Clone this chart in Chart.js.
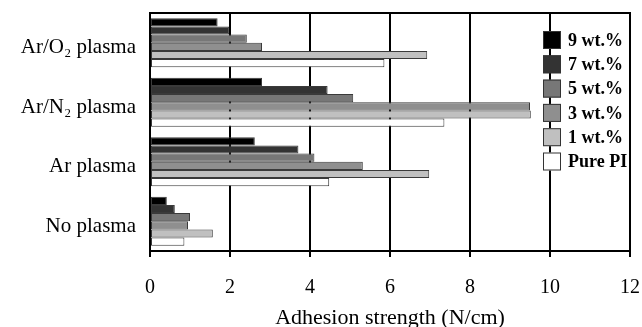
<!DOCTYPE html>
<html>
<head>
<meta charset="utf-8">
<script src="https://cdn.jsdelivr.net/npm/chart.js@4"></script>
<style>
  html, body { margin: 0; padding: 0; background: #fff; }
  #wrap { width: 642px; height: 327px; }
</style>
</head>
<body>
<div id="wrap"><canvas id="adhesionChart" width="642" height="327"></canvas></div>
<script>
// categories (top to bottom)
const treatments = ['Ar/O\u2082 plasma', 'Ar/N\u2082 plasma', 'Ar plasma', 'No plasma'];

// adhesion strength (N/cm) per filler content
const wt9 = [1.69, 2.80, 2.62, 0.42];
const wt7 = [1.98, 4.44, 3.71, 0.62];
const wt5 = [2.42, 5.08, 4.11, 1.00];
const wt3 = [2.80, 9.50, 5.32, 0.95];
const wt1 = [6.93, 9.52, 6.98, 1.57];
const purePI = [5.86, 7.36, 4.48, 0.86];

const seriesLabels = ['9 wt.%', '7 wt.%', '5 wt.%', '3 wt.%', '1 wt.%', 'Pure PI'];
const xTicks = [0, 2, 4, 6, 8, 10, 12];

const fills = ['#000000', '#333333', '#777777', '#8f8f8f', '#c0c0c0', '#ffffff'];
const serif = '"Liberation Serif", "DejaVu Serif", serif';

const datasets = [wt9, wt7, wt5, wt3, wt1, purePI].map((vals, i) => ({
  label: seriesLabels[i],
  data: vals,
  backgroundColor: fills[i],
  borderColor: '#3a3a3a',
  borderWidth: 1,
  borderSkipped: false,
  categoryPercentage: 0.82,
  barPercentage: 1.0
}));

// frame around plot + legend inside the plot on the right
const framePlugin = {
  id: 'frameAndLegend',
  afterDraw(chart) {
    const { ctx, chartArea: a } = chart;
    ctx.save();
    ctx.strokeStyle = '#000';
    ctx.lineWidth = 2;
    ctx.strokeRect(a.left, a.top, a.right - a.left, a.bottom - a.top);

    const boxX = 543, boxW = 18, boxH = 18;
    let y = 31;
    ctx.font = 'bold 18px ' + serif;
    ctx.textBaseline = 'middle';
    chart.data.datasets.forEach(ds => {
      ctx.fillStyle = ds.backgroundColor;
      ctx.fillRect(boxX, y, boxW, boxH);
      ctx.lineWidth = 1;
      ctx.strokeStyle = '#333';
      ctx.strokeRect(boxX + 0.5, y + 0.5, boxW - 1, boxH - 1);
      ctx.fillStyle = '#000';
      ctx.fillText(ds.label, boxX + 25, y + boxH / 2 + 1);
      y += 24.3;
    });
    ctx.restore();
  }
};

new Chart(document.getElementById('adhesionChart'), {
  type: 'bar',
  data: { labels: treatments, datasets: datasets },
  plugins: [framePlugin],
  options: {
    indexAxis: 'y',
    responsive: false,
    animation: false,
    layout: { padding: { top: 13, right: 12, left: 0, bottom: 0 } },
    plugins: {
      legend: { display: false },
      tooltip: { enabled: false }
    },
    scales: {
      x: {
        min: 0,
        max: 12,
        afterBuildTicks: axis => { axis.ticks = xTicks.map(v => ({ value: v })); },
        afterFit: axis => {
          axis.height = 76;
          axis.paddingLeft = 0;
          axis.paddingRight = 0;
        },
        grid: {
          color: '#000',
          lineWidth: 2,
          tickLength: 6,
          tickColor: '#000'
        },
        border: { color: '#000', width: 2 },
        ticks: {
          color: '#000',
          font: { family: serif, size: 20 },
          padding: 19
        },
        title: {
          display: true,
          text: 'Adhesion strength (N/cm)',
          color: '#000',
          font: { family: serif, size: 22 },
          padding: { top: 0, bottom: -4 }
        }
      },
      y: {
        afterFit: axis => {
          axis.width = 150;
          axis.paddingTop = 0;
          axis.paddingBottom = 0;
        },
        grid: {
          drawOnChartArea: false,
          drawTicks: false
        },
        border: { color: '#000', width: 2 },
        ticks: {
          color: '#000',
          font: { family: serif, size: 21 },
          padding: 14,
          labelOffset: 5
        }
      }
    }
  }
});
</script>
</body>
</html>
